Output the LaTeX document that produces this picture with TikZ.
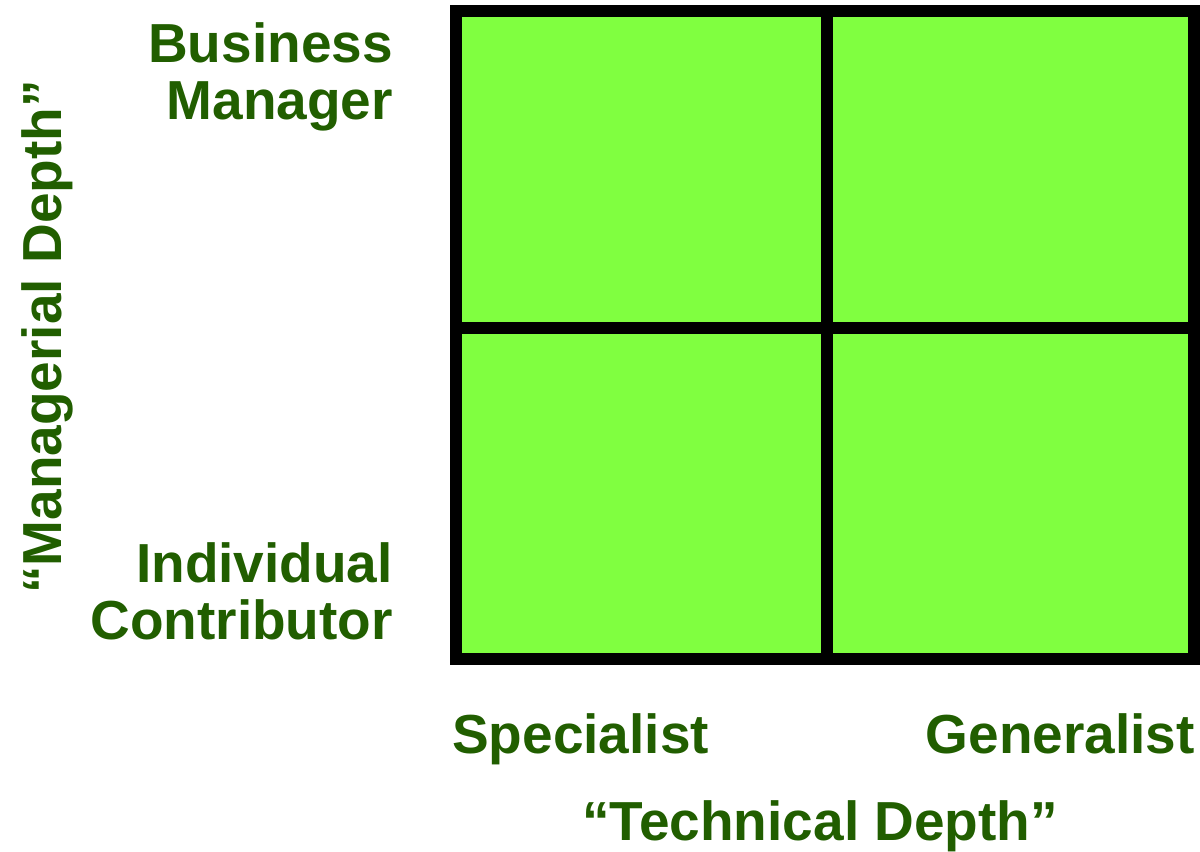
\documentclass[tikz,border=0pt]{standalone}
\usepackage{fontspec}
\setmainfont{Liberation Sans}
\usetikzlibrary{positioning}

\definecolor{cellgreen}{RGB}{128,255,64}
\definecolor{labelgreen}{RGB}{33,94,0}

\tikzset{
  cell/.style={draw=black, fill=cellgreen, line width=12bp, shape=rectangle, inner sep=0pt, outer sep=0pt},
  axislabel/.style={text=labelgreen, font=\fontsize{55bp}{57bp}\selectfont\bfseries, inner sep=0pt}
}

\begin{document}
\begin{tikzpicture}[x=1bp, y=-1bp]
  \useasboundingbox (0,0) rectangle (1200,852);

  % Quadrant cells
  \node[cell, minimum width=371bp, minimum height=317bp] (q11) at (641.5,169.5) {};
  \node[cell, minimum width=367bp, minimum height=317bp] (q12) at (1010.5,169.5) {};
  \node[cell, minimum width=371bp, minimum height=331bp] (q21) at (641.5,493.5) {};
  \node[cell, minimum width=367bp, minimum height=331bp] (q22) at (1010.5,493.5) {};

  % Row labels (base = last line)
  \node[axislabel, anchor=base east, align=right] (manager) at (393,119) {Business\\Manager};
  \node[axislabel, anchor=base east, align=right] (contrib) at (393,639) {Individual\\Contributor};
  % Column labels
  \node[axislabel, anchor=base west] (special) at (452,753) {Specialist};
  \node[axislabel, anchor=base east] (general) at (1195,753) {Generalist};

  % Axis titles
  \node[axislabel, anchor=base] (techdepth) at (820,840) {``Technical Depth''};
  \node[axislabel, anchor=base, rotate=90] (mgrdepth) at (61,337) {``Managerial Depth''};

\end{tikzpicture}
\end{document}
